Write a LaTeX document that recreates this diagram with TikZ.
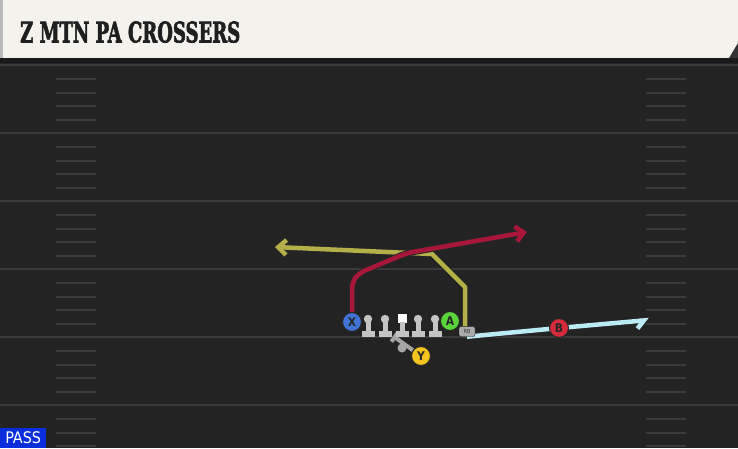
\documentclass[tikz,border=0pt]{standalone}
\usepackage{fontspec}
\setmainfont{DejaVu Sans}
\newfontfamily\titlefont{DejaVu Serif Condensed Bold}[FakeBold=2.5]
\newfontfamily\tagfont{DejaVu Sans Condensed}
\usepackage{tikz}
\usetikzlibrary{positioning,calc,arrows.meta,backgrounds}

\definecolor{fieldbg}{HTML}{232323}
\definecolor{yardline}{HTML}{3A3A3A}
\definecolor{hashmark}{HTML}{3B3B3B}
\definecolor{titlebg}{HTML}{F4F2EC}
\definecolor{routered}{HTML}{A8163A}
\definecolor{routeyellow}{HTML}{B5AF4A}
\definecolor{routeblue}{HTML}{BDEBF5}
\definecolor{xblue}{HTML}{3F74D4}
\definecolor{agreen}{HTML}{5BD43C}
\definecolor{yyellow}{HTML}{F3C41E}
\definecolor{bred}{HTML}{D42A3B}
\definecolor{olgray}{HTML}{C4C4C4}
\definecolor{blockgray}{HTML}{A6A6A6}
\definecolor{passblue}{HTML}{0A2EDC}

\begin{document}
\begin{tikzpicture}[x=1pt,y=-1pt,
    player/.style={circle, draw=black!85, line width=1pt, minimum size=19pt, inner sep=0pt, text=black!85, font=\tagfont\bfseries\fontsize{12}{12}\selectfont},
    route/.style={line width=4.5pt, line join=round, preaction={draw=black!85, line width=6.5pt}},
    tip/.style={-{Straight Barb[length=8pt, width=15pt]}},
    lineman/.style={fill=olgray, draw=none}]
    \useasboundingbox (0,0) rectangle (738,448);

    % Field
    \begin{pgfonlayer}{background}
    \fill[fieldbg] (0,0) rectangle (738,448);
    \foreach \y in {65,133,201,269,337,405} {
        \draw[yardline, line width=2pt] (0,\y) -- (738,\y);
        \foreach \d in {14,28,41,55} {
            \draw[hashmark, line width=1.5pt] (56,\y+\d) -- (96,\y+\d);
            \draw[hashmark, line width=1.5pt] (646,\y+\d) -- (686,\y+\d);
        }
    }
    \end{pgfonlayer}

    % Title bar
    \fill[black!90] (0,57) rectangle (738,63);
    \fill[titlebg] (3,0) rectangle (738,58);
    \fill[gray!55] (0,0) rectangle (3,58);
    \fill[black!80] (729,58) -- (738,43) -- (738,58) -- cycle;
    \node[anchor=south west, inner sep=0pt, text=black!88] (title) at (20,43)
        {\resizebox{220pt}{21pt}{\titlefont Z MTN PA CROSSERS}};

    % Offensive line
    \foreach \x in {368,385,418,435} {
        \fill[lineman] (\x,319) circle (4.2);
        \fill[lineman] (\x-2.5,321) rectangle (\x+2.5,332);
        \fill[lineman] (\x-6.5,331) rectangle (\x+6.5,336.5);
    }
    \fill[white] (397.5,313.5) rectangle (406.5,322.5);
    \fill[lineman] (399.5,322) rectangle (404.5,332);
    \fill[lineman] (395.5,331) rectangle (408.5,336.5);
    \coordinate (center) at (393,336);
    \fill[blockgray] (402,348) circle (4.5);

    % Skill players
    \node[player, fill=xblue] (x) at (352,322) {X};
    \node[player, fill=agreen] (a) at (450,321) {A};
    \node[player, fill=yyellow] (y) at (421,356) {Y};
    \node[player, fill=bred] (b) at (559,328) {B};
    \node[draw=black!85, fill=gray!65, rounded corners=2pt, minimum width=16pt, minimum height=10pt, inner sep=0pt,
        font=\tagfont\fontsize{5.5}{5.5}\selectfont, text=black!80] (rb) at (467,331.5) {RB};

    % Route ends
    \coordinate (xend) at (527,232);
    \coordinate (rbend) at (275,247);
    \coordinate (bend) at (649,320);

    % Routes
    \begin{pgfonlayer}{background}
    \draw[route, routeyellow, tip] (rb.north -| 465,0) -- (465,287) -- (432,254) -- (rbend);
    \draw[route, routered, tip, rounded corners=7pt] (x.north) -- (352,282) -- (359,273) -- (407,253) -- (xend);
    \draw[route, routeblue, -{Straight Barb[harpoon, swap, length=7pt, width=15pt]}] (rb.south) -- (b.center) -- (bend);
    \draw[blockgray, line width=4pt, -{Bar[width=11pt]}] (y) -- (center);
    \end{pgfonlayer}

    % Play type
    \node[fill=passblue, text=white, anchor=south west, minimum width=46pt, minimum height=20pt, inner sep=0pt,
        font=\tagfont\fontsize{16}{16}\selectfont] (pass) at (0,448) {PASS};
\end{tikzpicture}
\end{document}
